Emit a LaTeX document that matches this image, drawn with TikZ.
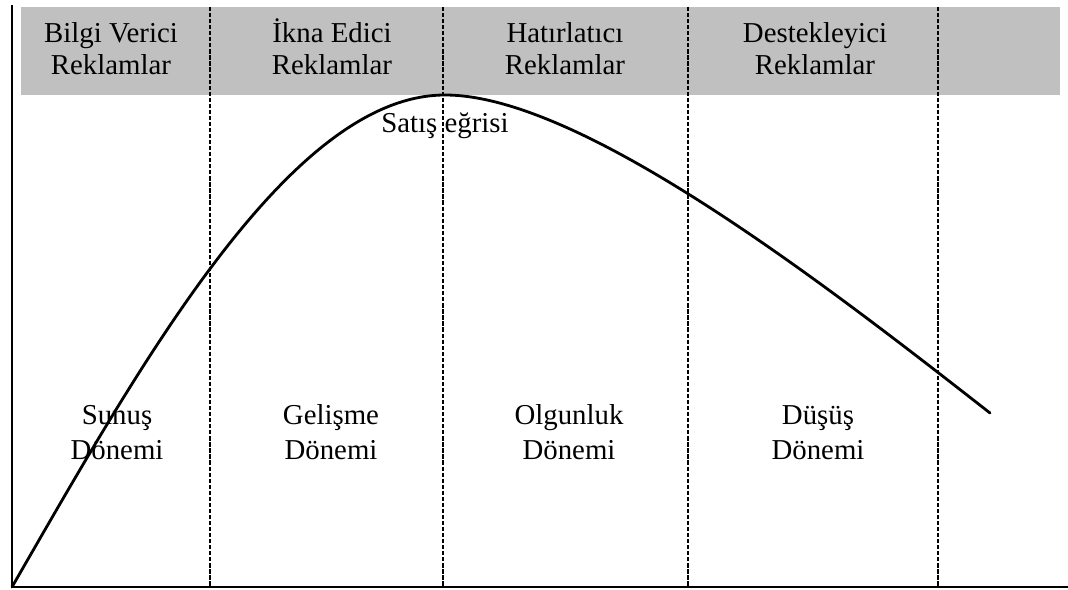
\documentclass[tikz,border=0pt]{standalone}
\usepackage{fontspec}
\setmainfont{Liberation Serif}
\definecolor{bandgray}{RGB}{192,192,192}
\begin{document}
\begin{tikzpicture}[x=0.025cm, y=-0.025cm,
    axis/.style={line width=2pt},
    divider/.style={line width=1.4pt, dash pattern=on 3pt off 1.3pt},
    curve/.style={line width=2pt, line cap=round},
    adlabel/.style={align=center, inner sep=0pt, anchor=south, font=\fontsize{20.5}{22.8}\selectfont},
    phaselabel/.style={align=center, inner sep=0pt, anchor=south, font=\fontsize{20.5}{25}\selectfont}
  ]
  \useasboundingbox (0,0) rectangle (1068,590);

  % Header band
  \fill[bandgray] (21,7) rectangle (1060,95);

  % Phase dividers
  \foreach \x in {210, 443, 688, 938} {
    \draw[divider] (\x,7) -- (\x,587);
  }

  % Axes
  \coordinate (O) at (12,587);
  \coordinate (ytop) at (12,5);
  \coordinate (xend) at (1068,587);
  \draw[axis] (ytop) -- (O) -- (xend);

  % Sales curve
  \coordinate (peak) at (445,95);
  \coordinate (curveend) at (990,413);
  \draw[curve] (O) .. controls (140,365) and (290,95) .. (peak)
    .. controls (580,95) and (820,280) .. (curveend);

  % Advertising types (anchored on the baseline of "Reklamlar")
  \node[adlabel] (bilgi) at (111,75) {Bilgi Verici\\Reklamlar};
  \node[adlabel] (ikna) at (332,75) {İkna Edici\\Reklamlar};
  \node[adlabel] (hatir) at (565,75) {Hatırlatıcı\\Reklamlar};
  \node[adlabel] (destek) at (815,75) {Destekleyici\\Reklamlar};

  \node[adlabel, anchor=base] (satis) at (445,133) {Satış eğrisi};

  % Phases (anchored on the baseline of "Dönemi")
  \node[phaselabel] (sunus) at (117,460) {Sunuş\\Dönemi};
  \node[phaselabel] (gelisme) at (331,460) {Gelişme\\Dönemi};
  \node[phaselabel] (olgunluk) at (569,460) {Olgunluk\\Dönemi};
  \node[phaselabel] (dusus) at (818,460) {Düşüş\\Dönemi};

\end{tikzpicture}
\end{document}
